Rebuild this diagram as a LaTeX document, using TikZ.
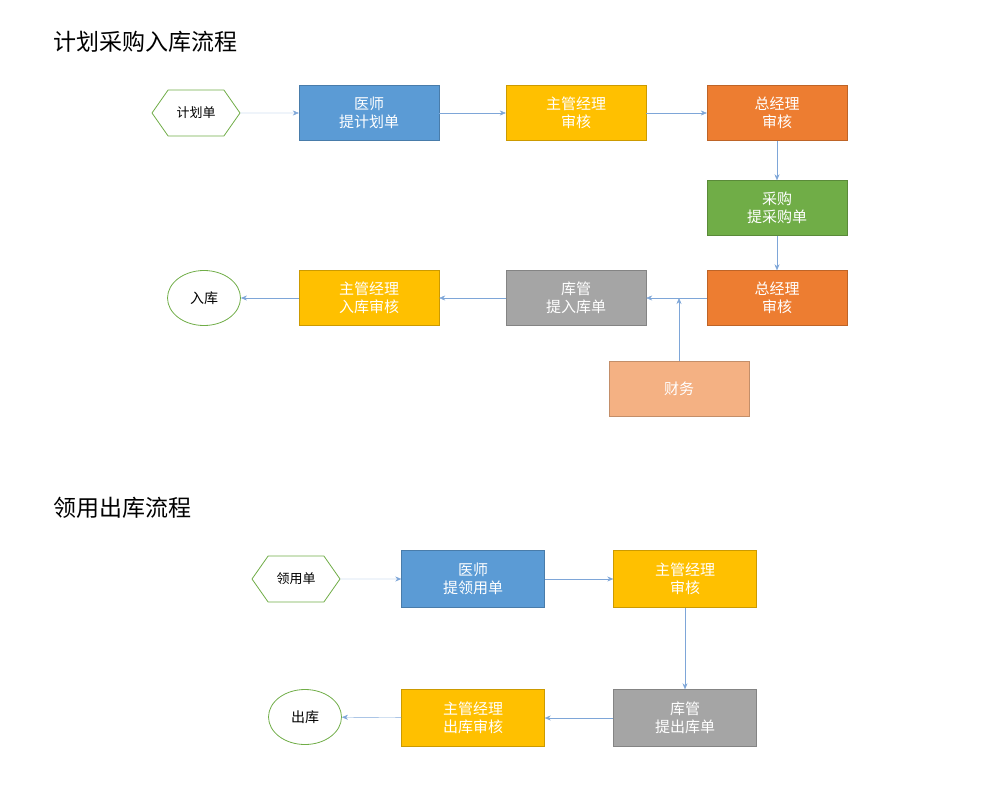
\documentclass[tikz,border=0pt]{standalone}
\usepackage{fontspec}
\setmainfont{Noto Sans CJK SC}
\usetikzlibrary{arrows.meta,shapes.geometric,shapes.symbols}
\definecolor{cblue}{HTML}{5B9BD5}
\definecolor{cyel}{HTML}{FFC000}
\definecolor{corg}{HTML}{ED7D31}
\definecolor{cgrn}{HTML}{70AD47}
\definecolor{cgry}{HTML}{A5A5A5}
\definecolor{csal}{HTML}{F4B183}
\definecolor{carr}{HTML}{7EA6D8}
\begin{document}
\begin{tikzpicture}[x=1pt,y=-1pt,
 box/.style={draw=#1!80!black,fill=#1,minimum width=140pt,minimum height=55pt,text=white,font=\fontsize{15}{18}\selectfont,align=center,inner sep=0pt},
 hex/.style={draw=cgrn,thick,fill=white,shape=signal,signal to=east and west,signal pointer angle=110,minimum width=88pt,minimum height=46pt,font=\fontsize{13}{16}\selectfont,inner sep=0pt},
 ell/.style={draw=cgrn,thick,ellipse,fill=white,minimum width=73pt,minimum height=55pt,font=\fontsize{14}{16}\selectfont,inner sep=0pt},
 arr/.style={draw=carr,-{Stealth[length=6pt,width=5pt]}},
 ttl/.style={font=\fontsize{23}{26}\selectfont,anchor=west}]
\useasboundingbox (0,0) rectangle (1000,800);
\node[ttl] (t1) at (50,42) {计划采购入库流程};
\node[ttl] (t2) at (50,508) {领用出库流程};
% row 1
\node[hex] (h1) at (196,113) {计划单};
\node[box=cblue] (a1) at (369,113) {医师\\提计划单};
\node[box=cyel] (a2) at (576,113) {主管经理\\审核};
\node[box=corg] (a3) at (777,113) {总经理\\审核};
\node[box=cgrn] (b1) at (777,208) {采购\\提采购单};
\node[box=corg] (c4) at (777,298) {总经理\\审核};
\node[box=cgry] (c3) at (576,298) {库管\\提入库单};
\node[box=cyel] (c2) at (369,298) {主管经理\\入库审核};
\node[ell] (c1) at (204,298) {入库};
\node[box=csal] (f) at (679,389) {财务};
\draw[arr] (h1) -- (a1);
\draw[arr] (a1) -- (a2);
\draw[arr] (a2) -- (a3);
\draw[arr] (a3) -- (b1);
\draw[arr] (b1) -- (c4);
\draw[arr] (c4) -- (c3);
\draw[arr] (c3) -- (c2);
\draw[arr] (c2) -- (c1);
\coordinate (j) at (679,298);
\draw[arr] (f.north) -- (j);
% row 2
\node[hex] (h2) at (296,579) {领用单};
\node[box=cblue,minimum width=143pt,minimum height=57pt] (d1) at (473,579) {医师\\提领用单};
\node[box=cyel,minimum width=143pt,minimum height=57pt] (d2) at (685,579) {主管经理\\审核};
\node[box=cgry,minimum width=143pt,minimum height=57pt] (e3) at (685,718) {库管\\提出库单};
\node[box=cyel,minimum width=143pt,minimum height=57pt] (e2) at (473,718) {主管经理\\出库审核};
\node[ell] (e1) at (305,717) {出库};
\draw[arr] (h2) -- (d1);
\draw[arr] (d1) -- (d2);
\draw[arr] (d2) -- (e3);
\draw[arr] (e3) -- (e2);
\draw[arr] (e2) -- (e1);
\end{tikzpicture}
\end{document}
